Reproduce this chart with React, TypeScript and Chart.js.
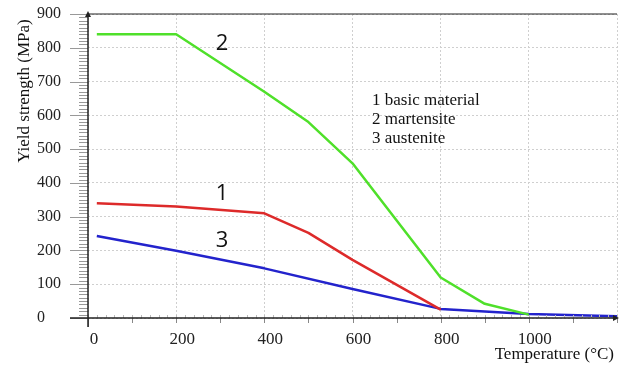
import React, { useEffect, useRef } from "react";
import { Chart, registerables } from "chart.js";

Chart.register(...registerables);

const basicT = [20, 200, 400, 500, 600, 800];
const basicY = [340, 330, 310, 252, 172, 25];
const martT = [20, 200, 400, 500, 600, 800, 900, 1000];
const martY = [840, 840, 670, 580, 458, 120, 42, 10];
const austT = [20, 200, 400, 600, 800, 1000, 1200];
const austY = [243, 199, 147, 86, 27, 12, 5];

const xTicks = [0, 200, 400, 600, 800, 1000, 1200];
const yTicks = [0, 100, 200, 300, 400, 500, 600, 700, 800, 900];

const legendLines = ["1 basic material", "2 martensite", "3 austenite"];
const curveLabels = [
  { text: "2", t: 304, v: 811 },
  { text: "1", t: 304, v: 367 },
  { text: "3", t: 304, v: 228 },
];

const toPts = (t: number[], y: number[]) => t.map((x, i) => ({ x, y: y[i] }));

const decor = {
  id: "decor",
  afterDraw(chart: any) {
    const { ctx, chartArea: a, scales } = chart;
    const xs = scales.x;
    const ys = scales.y;
    ctx.save();
    ctx.strokeStyle = "#999";
    ctx.lineWidth = 1;
    for (let v = 0; v <= 900; v += 10) {
      const py = Math.round(ys.getPixelForValue(v)) + 0.5;
      ctx.beginPath();
      const len = v % 100 === 0 ? 18 : 9;
      ctx.moveTo(a.left - len, py);
      ctx.lineTo(a.left, py);
      ctx.stroke();
    }
    ctx.strokeStyle = "#bbb";
    for (let v = 0; v <= 1200; v += 20) {
      const px = Math.round(xs.getPixelForValue(v)) + 0.5;
      ctx.beginPath();
      ctx.moveTo(px, a.bottom - 3);
      ctx.lineTo(px, a.bottom);
      ctx.stroke();
    }
    ctx.strokeStyle = "#888";
    for (let v = 0; v <= 1200; v += 100) {
      const px = Math.round(xs.getPixelForValue(v)) + 0.5;
      ctx.beginPath();
      ctx.moveTo(px, a.bottom);
      ctx.lineTo(px, a.bottom + (v === 0 ? 9 : 5));
      ctx.stroke();
    }
    ctx.strokeStyle = "#222";
    ctx.lineWidth = 1.5;
    ctx.beginPath();
    ctx.moveTo(a.left - 18, a.bottom);
    ctx.lineTo(a.right, a.bottom);
    ctx.stroke();
    ctx.beginPath();
    ctx.moveTo(a.left, a.top);
    ctx.lineTo(a.left, a.bottom + 9);
    ctx.stroke();
    ctx.lineWidth = 1.2;
    ctx.beginPath();
    ctx.moveTo(a.left, a.top);
    ctx.lineTo(a.right, a.top);
    ctx.stroke();
    ctx.fillStyle = "#222";
    ctx.beginPath();
    ctx.moveTo(a.left, a.top - 3);
    ctx.lineTo(a.left - 3, a.top + 3);
    ctx.lineTo(a.left + 3, a.top + 3);
    ctx.closePath();
    ctx.fill();
    ctx.beginPath();
    ctx.moveTo(a.right + 2, a.bottom);
    ctx.lineTo(a.right - 4, a.bottom - 3);
    ctx.lineTo(a.right - 4, a.bottom + 3);
    ctx.closePath();
    ctx.fill();

    ctx.fillStyle = "#111";
    ctx.font = "22px 'Open Sans', 'DejaVu Sans', sans-serif";
    ctx.textAlign = "center";
    ctx.textBaseline = "middle";
    curveLabels.forEach((l) => {
      ctx.fillText(l.text, xs.getPixelForValue(l.t), ys.getPixelForValue(l.v));
    });

    ctx.font = "17px 'Liberation Serif', serif";
    ctx.textAlign = "left";
    ctx.fillStyle = "#111";
    legendLines.forEach((s, i) => {
      ctx.fillText(s, 372, 101 + i * 19);
    });

    ctx.font = "17px 'Liberation Serif', serif";
    ctx.textAlign = "right";
    ctx.fillText("Temperature (°C)", 614, 355);
    ctx.save();
    ctx.translate(25, 91);
    ctx.rotate(-Math.PI / 2);
    ctx.textAlign = "center";
    ctx.fillText("Yield strength (MPa)", 0, 0);
    ctx.restore();
    ctx.restore();
  },
};

export default function App() {
  const ref = useRef<HTMLCanvasElement | null>(null);
  useEffect(() => {
    document.body.style.margin = "0";
    const canvas = ref.current!;
    const mk = (label: string, data: any, color: string) => ({
      label,
      data,
      borderColor: color,
      backgroundColor: color,
      borderWidth: 2.5,
      borderJoinStyle: "round",
      pointRadius: 0,
      tension: 0,
      fill: false,
    });
    const chart = new Chart(canvas, {
      type: "line",
      data: {
        datasets: [
          mk("1 basic material", toPts(basicT, basicY), "#dd2a2a"),
          mk("2 martensite", toPts(martT, martY), "#4fe02a"),
          mk("3 austenite", toPts(austT, austY), "#2323cc"),
        ],
      },
      options: {
        animation: false,
        responsive: false,
        devicePixelRatio: 1,
        layout: { padding: { left: 37, top: 14, right: 4, bottom: 0 } },
        plugins: { legend: { display: false }, tooltip: { enabled: false } },
        scales: {
          x: {
            type: "linear",
            min: 0,
            max: 1200,
            afterBuildTicks: (s: any) => {
              s.ticks = xTicks.map((v) => ({ value: v }));
            },
            afterFit: (s: any) => {
              s.height = 47;
              s.paddingLeft = 0;
              s.paddingRight = 0;
            },
            grid: { color: "#cfcfcf", drawTicks: false },
            border: { display: false, dash: [2, 2] },
            ticks: {
              padding: 11,
              labelOffset: 6,
              color: "#222",
              font: { family: "'Liberation Serif', serif", size: 17 },
              callback: (v: any) => (v === 1200 ? "" : String(v)),
            },
          },
          y: {
            type: "linear",
            min: 0,
            max: 900,
            afterBuildTicks: (s: any) => {
              s.ticks = yTicks.map((v) => ({ value: v }));
            },
            afterFit: (s: any) => {
              s.width = 51;
              s.paddingTop = 0;
              s.paddingBottom = 0;
            },
            grid: { color: "#cfcfcf", drawTicks: false },
            border: { display: false, dash: [2, 2] },
            ticks: {
              crossAlign: "far",
              color: "#222",
              font: { family: "'Liberation Serif', serif", size: 16 },
            },
          },
        },
      },
      plugins: [decor],
    } as any);
    return () => chart.destroy();
  }, []);
  return <canvas ref={ref} width={621} height={365} style={{ display: "block" }} />;
}
